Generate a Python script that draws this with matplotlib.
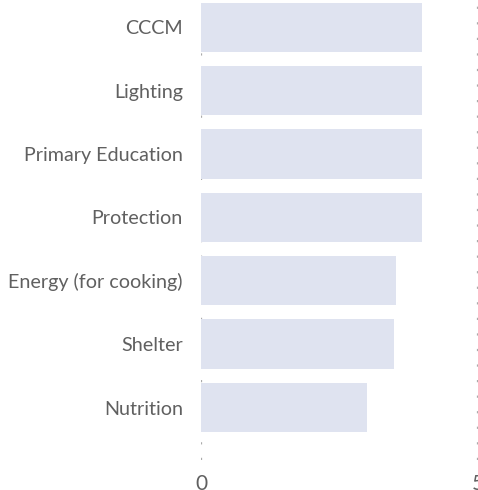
import matplotlib.pyplot as plt

categories = ['CCCM', 'Lighting', 'Primary Education', 'Protection',
              'Energy (for cooking)', 'Shelter', 'Nutrition']
values = [4.0, 4.0, 4.0, 4.0, 3.52, 3.49, 3.0]

plt.rcParams['font.family'] = ['Lato', 'DejaVu Sans']

fig = plt.figure(figsize=(4.78, 4.90), dpi=100)
ax = fig.add_axes([0.4205, 0.061, 0.5785, 0.939])

pos = list(range(len(categories)))
ax.barh(pos, values, height=0.78, color='#dfe3f0', zorder=2)

ax.set_xlim(0, 5)
ax.set_ylim(6.83, -0.43)
ax.set_xticks([0, 5])
ax.set_yticks(pos)
ax.set_yticklabels(categories)

# dotted vertical gridlines at the two ticks
ax.grid(axis='x', color='#aaaaaa', linestyle=(0, (1, 6)), linewidth=1.6, zorder=1)
for s in ax.spines.values():
    s.set_visible(False)
ax.tick_params(axis='both', length=0, colors='#606060', labelsize=14.2)
ax.tick_params(axis='y', pad=13)
ax.tick_params(axis='x', pad=10, labelsize=15)

fig.savefig('out.png', dpi=100)
